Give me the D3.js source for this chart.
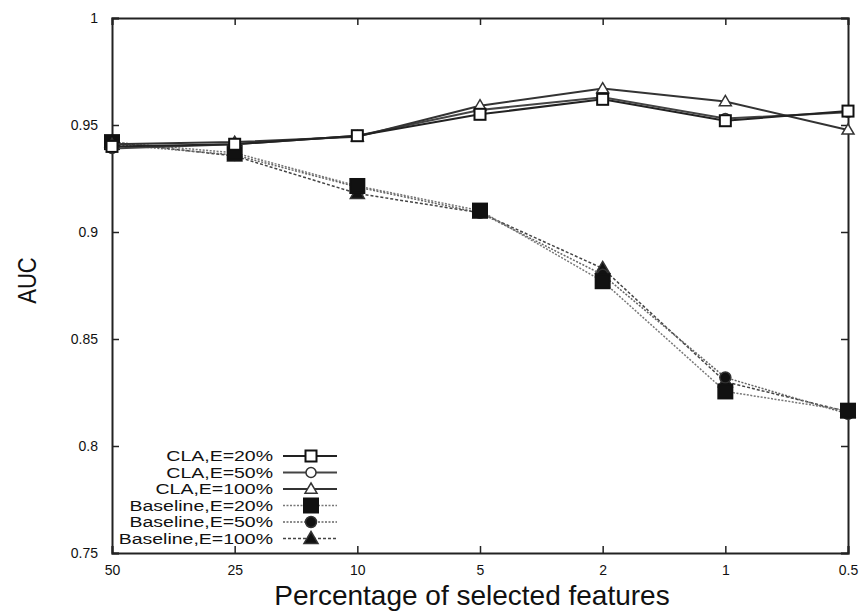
<!DOCTYPE html>
<html>
<head>
<meta charset="utf-8">
<style>
  body { margin: 0; background: #fff; }
  text { font-family: "Liberation Sans", Arial, sans-serif; }
</style>
</head>
<body>
<div id="chart"></div>
<script src="https://d3js.org/d3.v7.min.js"></script>
<script>
  // percentage of selected features (x categories)
  const categories = ["50", "25", "10", "5", "2", "1", "0.5"];
  const yTicks = [0.75, 0.8, 0.85, 0.9, 0.95, 1];

  const claE20 = [0.940, 0.941, 0.945, 0.955, 0.962, 0.952, 0.9565];
  const claE50 = [0.939, 0.941, 0.945, 0.957, 0.963, 0.953, 0.956];
  const claE100 = [0.941, 0.942, 0.9445, 0.959, 0.967, 0.961, 0.9477];
  const baseE20 = [0.942, 0.937, 0.9215, 0.910, 0.877, 0.8255, 0.8165];
  const baseE50 = [0.941, 0.936, 0.921, 0.909, 0.880, 0.832, 0.815];
  const baseE100 = [0.942, 0.9355, 0.918, 0.909, 0.883, 0.830, 0.816];

  const series = [
    { name: "CLA,E=20%", values: claE20, marker: "square", fill: "none", dash: null, stroke: "#222" },
    { name: "CLA,E=50%", values: claE50, marker: "circle", fill: "none", dash: null, stroke: "#444" },
    { name: "CLA,E=100%", values: claE100, marker: "triangle", fill: "none", dash: null, stroke: "#333" },
    { name: "Baseline,E=20%", values: baseE20, marker: "square", fill: "#111", dash: "2,1.5", stroke: "#777" },
    { name: "Baseline,E=50%", values: baseE50, marker: "circle", fill: "#111", dash: "2,1.5", stroke: "#666" },
    { name: "Baseline,E=100%", values: baseE100, marker: "triangle", fill: "#111", dash: "3,2", stroke: "#444" }
  ];

  const W = 861, H = 612;
  const margin = { top: 18, right: 13, bottom: 59, left: 112 },
        width = W - margin.left - margin.right,
        height = H - margin.top - margin.bottom;

  const svg = d3.select("#chart").append("svg")
    .attr("width", W)
    .attr("height", H)
   .append("g")
    .attr("transform", `translate(${margin.left},${margin.top})`);

  const x = d3.scalePoint().domain(categories).range([0, width]);
  const y = d3.scaleLinear().domain([0.75, 1]).range([height, 0]);

  const fmt = d => d === 1 ? "1" : d3.format("")(+d.toFixed(2));

  // axes, gnuplot style: inward ticks mirrored on all sides
  svg.append("g").attr("transform", `translate(0,${height})`)
    .call(d3.axisBottom(x).tickSize(-7).tickPadding(12));
  svg.append("g").call(d3.axisTop(x).tickSize(-7).tickFormat(""));
  svg.append("g").call(d3.axisLeft(y).tickValues(yTicks).tickSize(-7).tickPadding(14).tickFormat(fmt));
  svg.append("g").attr("transform", `translate(${width},0)`)
    .call(d3.axisRight(y).tickValues(yTicks).tickSize(-7).tickFormat(""));
  svg.selectAll(".domain").attr("stroke", "#222").attr("stroke-width", 2);
  svg.selectAll(".tick line").attr("stroke", "#222").attr("stroke-width", 1.5);
  svg.selectAll(".tick text").attr("font-size", 14).attr("fill", "#111");

  svg.append("text")
    .attr("x", width / 2 - 8).attr("y", height + 52)
    .attr("text-anchor", "middle").attr("font-size", 28).attr("fill", "#111")
    .text("Percentage of selected features");
  svg.append("text")
    .attr("transform", `translate(${-76},${height / 2 - 5}) rotate(-90) scale(0.85,1)`)
    .attr("text-anchor", "middle").attr("font-size", 26).attr("fill", "#111")
    .text("AUC");

  const line = d3.line().x((d, i) => x(categories[i])).y(d => y(d));

  function drawMarker(g, s, cx, cy) {
    const filled = s.fill !== "none";
    if (s.marker === "square") {
      const r = filled ? 7 : 5.5;
      g.append("rect").attr("x", cx - r).attr("y", cy - r).attr("width", 2 * r).attr("height", 2 * r)
        .attr("fill", filled ? s.fill : "#fff").attr("stroke", "#111").attr("stroke-width", 2);
    } else if (s.marker === "circle") {
      g.append("circle").attr("cx", cx).attr("cy", cy).attr("r", filled ? 5.5 : 5)
        .attr("fill", filled ? s.fill : "#fff").attr("stroke", "#333").attr("stroke-width", 1.5);
    } else {
      const r = filled ? 7 : 6;
      g.append("path")
        .attr("d", `M${cx},${cy - r}L${cx + r},${cy + r * 0.7}L${cx - r},${cy + r * 0.7}Z`)
        .attr("fill", filled ? s.fill : "#fff").attr("stroke", "#333").attr("stroke-width", 1.5);
    }
  }

  // draw baselines first, then CLA lines on top
  const order = [5, 4, 3, 1, 2, 0];
  order.forEach(k => {
    const s = series[k];
    const g = svg.append("g");
    g.append("path")
      .datum(s.values)
      .attr("fill", "none")
      .attr("stroke", s.stroke)
      .attr("stroke-width", s.dash ? 1.5 : 2)
      .attr("stroke-dasharray", s.dash)
      .attr("d", line);
    s.values.forEach((v, i) => drawMarker(g, s, x(categories[i]), y(v)));
  });

  // legend
  const legX = 161, legY0 = 438, legStep = 16.5;
  const leg = svg.append("g");
  series.forEach((s, i) => {
    const yy = legY0 + i * legStep;
    leg.append("text")
      .attr("transform", `translate(${legX},${yy}) scale(1.3,1)`)
      .attr("dy", "0.35em")
      .attr("text-anchor", "end").attr("font-size", 15).attr("fill", "#111")
      .text(s.name);
    leg.append("line")
      .attr("x1", legX + 10).attr("x2", legX + 64).attr("y1", yy).attr("y2", yy)
      .attr("stroke", s.stroke).attr("stroke-width", s.dash ? 1.5 : 2)
      .attr("stroke-dasharray", s.dash);
    drawMarker(leg, s, legX + 38, yy);
  });
</script>
</body>
</html>
